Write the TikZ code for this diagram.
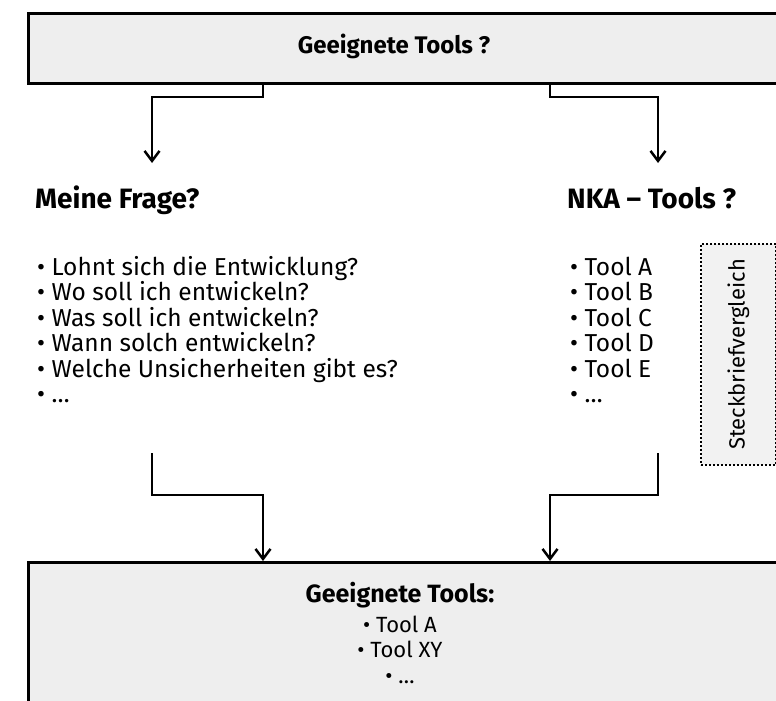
\documentclass[tikz,border=0pt]{standalone}
\usepackage{fontspec}
\setmainfont{Fira Sans}
\usetikzlibrary{arrows.meta}
\definecolor{boxgray}{HTML}{EEEEEE}
\definecolor{dotgray}{HTML}{F2F2F2}
\begin{document}
\begin{tikzpicture}[x=1pt,y=-1pt,
  bigbox/.style={draw=black, line width=3pt, fill=boxgray, anchor=north west, inner sep=0pt},
  conn/.style={line width=2.5pt, -{Straight Barb[length=10pt,width=15pt,line width=2.5pt]}},
  head/.style={font=\fontsize{28}{32}\selectfont\bfseries, anchor=base west, inner sep=0pt},
  lst/.style={font=\fontsize{24.5}{28}\selectfont, anchor=base west, inner sep=0pt},
  blst/.style={font=\fontsize{22}{26}\selectfont, anchor=base, inner sep=0pt}]
\useasboundingbox (0,0) rectangle (776,701);
\clip (0,0) rectangle (776,701);
% top box
\node[bigbox, minimum width=752pt, minimum height=70pt] (top) at (27,12) {};
\node[font=\fontsize{24}{28}\selectfont\bfseries, anchor=base, inner sep=0pt] (toptxt) at (394,54) {Geeignete Tools ?};
% headings
\node[head] (frage) at (35,208) {Meine Frage?};
\node[head] (nka) at (567,208) {NKA -- Tools ?};
% arrow target coordinates
\coordinate (tipL) at (152,163);
\coordinate (tipR) at (658,163);
\draw[conn] (263,82) |- (152,97) -- (tipL);
\draw[conn] (550,82) |- (658,97) -- (tipR);
% lists
\foreach \t [count=\i from 0] in {Lohnt sich die Entwicklung?,Wo soll ich entwickeln?,Was soll ich entwickeln?,Wann solch entwickeln?,Welche Unsicherheiten gibt es?,…}
  \node[lst] (l\i) at (37,275+25.5*\i) {• \t};
\foreach \t [count=\i from 0] in {Tool A,Tool B,Tool C,Tool D,Tool E,…}
  \node[lst] (r\i) at (570,275+25.5*\i) {• \t};
% dotted box
\node[draw=black, line width=2pt, dotted, fill=dotgray, minimum width=75pt, minimum height=221pt, anchor=north west, inner sep=0pt] (steck) at (700,243) {};
\node[rotate=90, font=\fontsize{22}{26}\selectfont] (stecktxt) at (steck.center) {Steckbriefvergleich};
% bottom box
\node[bigbox, line width=2.5pt, minimum width=752pt, minimum height=200pt] (bottom) at (27,561) {};
\coordinate (srcL) at (152,453);
\coordinate (srcR) at (658,453);
\draw[conn] (srcL) |- (263,495) -- (263,561);
\draw[conn] (srcR) |- (550,495) -- (550,561);
\node[blst, font=\fontsize{25}{28}\selectfont\bfseries] (b0) at (400,602) {Geeignete Tools:};
\node[blst] (b1) at (400,632) {• Tool A};
\node[blst] (b2) at (400,657) {• Tool XY};
\node[blst] (b3) at (400,683) {• …};
\end{tikzpicture}
\end{document}
